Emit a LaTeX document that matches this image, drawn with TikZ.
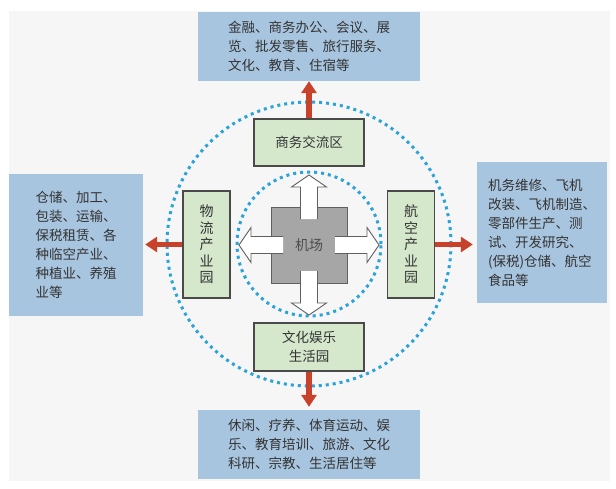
\documentclass[tikz,border=0pt]{standalone}
\usepackage{fontspec}
\setmainfont{Noto Sans CJK SC}
\usetikzlibrary{arrows.meta}
\definecolor{pagebg}{HTML}{F6F6F6}
\definecolor{usefill}{HTML}{A8C5DF}
\definecolor{zonefill}{HTML}{D5E8CC}
\definecolor{zoneedge}{HTML}{4A4A4A}
\definecolor{airfill}{HTML}{A6A6A6}
\definecolor{airedge}{HTML}{606060}
\definecolor{ringblue}{HTML}{2AA3D8}
\definecolor{outred}{HTML}{C8412A}
\definecolor{txt}{HTML}{333333}
\begin{document}
\begin{tikzpicture}[x=1pt,y=-1pt,
    every node/.style={text=txt},
    usebox/.style={fill=usefill, inner sep=0pt, align=left,
        font=\fontsize{13.5}{19}\selectfont},
    zone/.style={draw=zoneedge, line width=1.1pt, fill=zonefill, inner sep=0pt, align=center,
        font=\fontsize{13.5}{19}\selectfont},
    tallzone/.style={zone, minimum width=47pt, minimum height=107pt,
        font=\fontsize{14}{16.5}\selectfont},
    dotring/.style={ringblue, line width=3pt, dash pattern=on 3pt off 4pt},
    outarrow/.style={outred, line width=5.5pt, -{Triangle[length=12pt,width=15pt]}},
    whitearrow/.style={fill=white, draw=airedge, line width=0.9pt}]
    \useasboundingbox (0,0) rectangle (616,488);
    \fill[pagebg] (9,11) rectangle (610,481);
    % rings round the airport
    \draw[dotring] (309,244) circle[radius=72pt];
    \draw[dotring] (309,244) circle[radius=142pt];
    % airport with its four arrows
    \node[draw=airedge, line width=0.9pt, fill=airfill, minimum size=76pt,
        font=\fontsize{14}{16}\selectfont, text=airedge!80!black] (airport) at (309,245) {机场};
    \foreach \a in {0,90,180,270}
        \draw[whitearrow, shift={(airport.center)}, rotate=\a]
            (26,-8.5) -- (58,-8.5) -- (58,-17.5) -- (70,0) -- (58,17.5) -- (58,8.5) -- (26,8.5);
    % zones
    \node[zone, minimum width=110pt, minimum height=47pt] (biz) at (309,142.5) {商务交流区};
    \node[tallzone] (logi) at (206.5,244.5) {物\\流\\产\\业\\园};
    \node[tallzone] (aero) at (411,244.5) {航\\空\\产\\业\\园};
    \node[zone, minimum width=110pt, minimum height=48pt] (life) at (309,347) {文化娱乐\\生活园};
    % uses
    \node[usebox, minimum width=222pt, minimum height=69pt] (bizuse) at (309,46.5)
        {金融、商务办公、会议、展\\览、批发零售、旅行服务、\\文化、教育、住宿等};
    \node[usebox, minimum width=134pt, minimum height=142pt] (logiuse) at (76,245)
        {仓储、加工、\\包装、运输、\\保税租赁、各\\种临空产业、\\种植业、养殖\\业等};
    \node[usebox, minimum width=130pt, minimum height=141pt] (aerouse) at (542,232.5)
        {机务维修、飞机\\改装、飞机制造、\\零部件生产、测\\试、开发研究、\\(保税)仓储、航空\\食品等};
    \node[usebox, minimum width=222pt, minimum height=69pt] (lifeuse) at (309,444.5)
        {休闲、疗养、体育运动、娱\\乐、教育培训、旅游、文化\\科研、宗教、生活居住等};
    \draw[outarrow] (biz.north) -- (bizuse.south);
    \draw[outarrow] (logi.west) -- ([xshift=2pt]logi.west -| logiuse.east);
    \draw[outarrow] (aero.east) -- ([xshift=-4pt]aero.east -| aerouse.west);
    \draw[outarrow, shorten >=3pt] (life.south) -- (lifeuse.north);
\end{tikzpicture}
\end{document}
